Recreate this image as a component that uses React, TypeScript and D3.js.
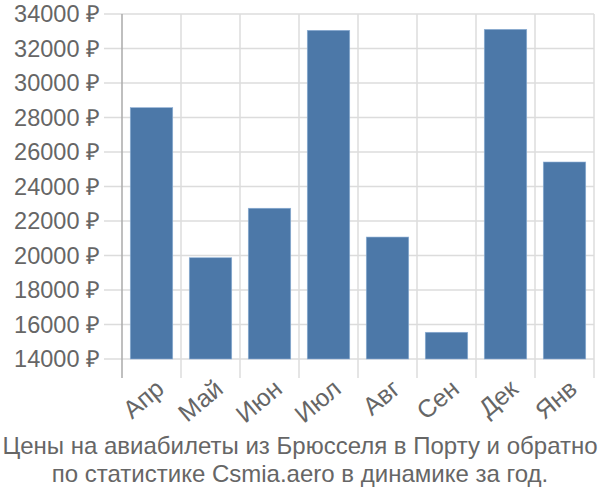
import React from "react";
import * as d3 from "d3";

const categories = ["Апр", "Май", "Июн", "Июл", "Авг", "Сен", "Дек", "Янв"];
const values = [28570, 19870, 22740, 33055, 21070, 15550, 33110, 25420];
const yTicks = [14000, 16000, 18000, 20000, 22000, 24000, 26000, 28000, 30000, 32000, 34000];
const titleLines = [
  "Цены на авиабилеты из Брюсселя в Порту и обратно",
  "по статистике Csmia.aero в динамике за год.",
];

export default function App() {
  const W = 600, H = 500;
  const left = 122, right = 594, top = 14, bottom = 359;
  const x = d3.scaleBand<string>().domain(categories).range([left, right]).padding(0);
  const y = d3.scaleLinear().domain([14000, 34000]).range([bottom, top]);
  const bw = x.bandwidth();
  const inset = bw * 0.14;
  const font = "'Liberation Sans', Arial, sans-serif";
  const boundaries = categories.map((c) => x(c) as number).concat([right]);

  return (
    <svg width={W} height={H} style={{ position: "absolute", left: 0, top: 0 }} fontFamily={font}>
      <rect x={0} y={0} width={W} height={H} fill="#fff" />
      {yTicks.map((t) => (
        <line key={"h" + t} x1={104} x2={right} y1={y(t)} y2={y(t)} stroke="#dcdcdc" strokeWidth={1.5} />
      ))}
      {boundaries.map((b, i) => (
        <line key={"v" + i} x1={b} x2={b} y1={top} y2={378} stroke={i === 0 ? "#aaaaaa" : "#dcdcdc"} strokeWidth={1.5} />
      ))}
      {categories.map((c, i) => (
        <rect
          key={c}
          x={(x(c) as number) + inset}
          y={y(values[i])}
          width={bw - 2 * inset}
          height={bottom - y(values[i])}
          fill="#4c78a8"
          stroke="#8fb0d6"
          strokeWidth={0.6}
        />
      ))}
      {yTicks.map((t) => (
        <text key={"yt" + t} x={100} y={y(t)} dy="0.35em" textAnchor="end" fontSize={23.5} fill="#666">
          {t} ₽
        </text>
      ))}
      {categories.map((c) => {
        const cx = (x(c) as number) + bw / 2 + 3;
        const cy = 378;
        return (
          <text key={"xt" + c} transform={`translate(${cx},${cy}) rotate(-40)`} textAnchor="end" dy="0.7em" fontSize={25} fill="#666">
            {c}
          </text>
        );
      })}
      {titleLines.map((l, i) => (
        <text key={"t" + i} x={W / 2} y={454 + i * 28} textAnchor="middle" fontSize={24} fill="#666">
          {l}
        </text>
      ))}
    </svg>
  );
}
